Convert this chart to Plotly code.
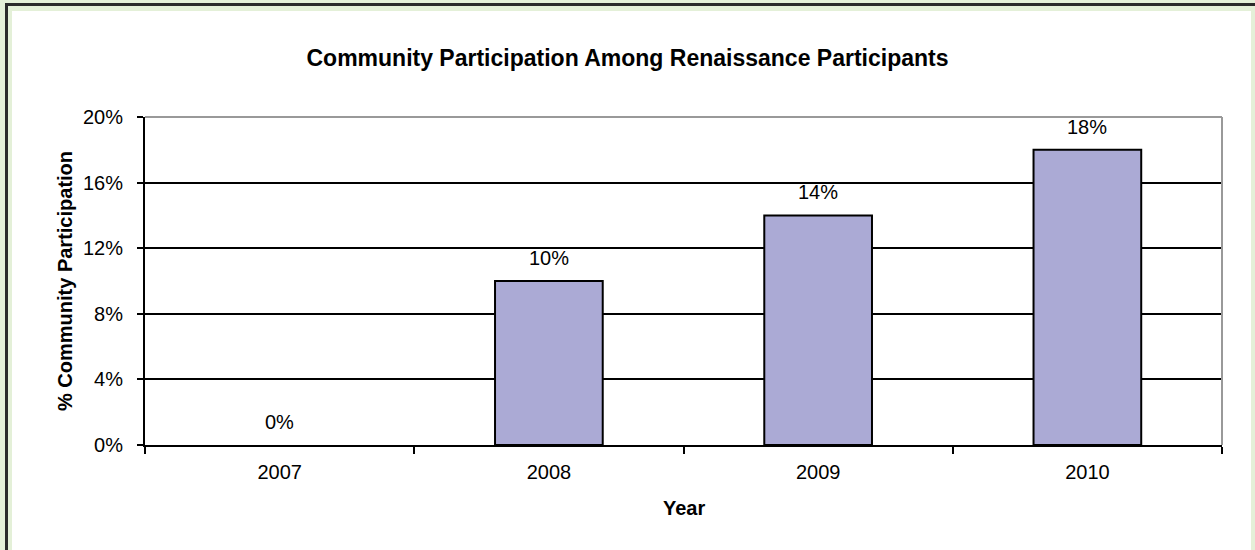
import plotly.graph_objects as go

years = ["2007", "2008", "2009", "2010"]
values = [0.0, 0.10, 0.14, 0.18]
labels = ["0%", "10%", "14%", "18%"]
y_ticks = [0, 0.04, 0.08, 0.12, 0.16, 0.20]
y_tick_text = ["0%", "4%", "8%", "12%", "16%", "20%"]

W, H = 1255, 550
L, R, T, B = 145, 1222, 117, 445
PW, PH = R - L, B - T

def px(x):
    return (x - L) / PW

def py(y):
    return (B - y) / PH

FONT = "Liberation Sans, Arial, sans-serif"

fig = go.Figure()
fig.add_trace(go.Bar(
    x=years, y=values, width=0.4,
    marker=dict(color="#ABAAD5",
                line=dict(color="black", width=[0 if v == 0 else 2 for v in values])),
    hoverinfo="skip",
))

annotations = []
for i, (v, t) in enumerate(zip(values, labels)):
    annotations.append(dict(x=i, y=v, text=t, showarrow=False, xref="x", yref="y",
                            yanchor="middle", yshift=23,
                            font=dict(family=FONT, size=20, color="black")))
annotations.append(dict(x=px(65), y=0.5, xref="paper", yref="paper", text="<b>% Community Participation</b>",
                        textangle=-90, showarrow=False, xanchor="center", yanchor="middle",
                        font=dict(family=FONT, size=20, color="black")))
annotations.append(dict(x=0.5, y=py(508), xref="paper", yref="paper", text="<b>Year</b>",
                        showarrow=False, xanchor="center", yanchor="middle",
                        font=dict(family=FONT, size=20, color="black")))

shapes = [
    dict(type="rect", xref="paper", yref="paper", x0=px(12), x1=px(1251), y0=py(560), y1=py(11),
         fillcolor="white", line=dict(width=0), layer="below"),
    dict(type="rect", xref="paper", yref="paper", x0=px(5), x1=px(8), y0=py(560), y1=py(3),
         fillcolor="#2a2a2a", line=dict(width=0), layer="below"),
    dict(type="rect", xref="paper", yref="paper", x0=px(5), x1=px(1260), y0=py(6), y1=py(3),
         fillcolor="#2a2a2a", line=dict(width=0), layer="below"),
    dict(type="line", xref="paper", yref="paper", x0=0, x1=1, y0=1, y1=1,
         line=dict(color="#999999", width=2), layer="above"),
    dict(type="line", xref="paper", yref="paper", x0=1, x1=1, y0=0, y1=1,
         line=dict(color="#999999", width=2), layer="above"),
]

fig.update_layout(
    width=W, height=H,
    margin=dict(l=L, r=W - R, t=T, b=H - B, pad=0),
    paper_bgcolor="#E4F0D8",
    plot_bgcolor="white",
    showlegend=False,
    title=dict(text="<b>Community Participation Among Renaissance Participants</b>",
               x=0.5, xref="container", xanchor="center",
               y=1 - 58 / H, yref="container", yanchor="middle",
               font=dict(family=FONT, size=23, color="black")),
    annotations=annotations,
    shapes=shapes,
    xaxis=dict(type="category", range=[-0.5, len(years) - 0.5], tickson="boundaries",
               ticks="outside", ticklen=7, tickwidth=2,
               tickcolor="black", showline=True, linecolor="black", linewidth=2,
               showgrid=False, tickfont=dict(family=FONT, size=20, color="black"),
               ticklabelstandoff=8, tickangle=0),
    yaxis=dict(range=[0, 0.2], tickvals=y_ticks, ticktext=y_tick_text, ticks="outside",
               ticklen=6, tickwidth=2, tickcolor="black", showline=True, linecolor="black",
               linewidth=2, showgrid=True, gridcolor="black", gridwidth=2, zeroline=False,
               tickfont=dict(family=FONT, size=20, color="black"), ticklabelstandoff=10),
    font=dict(family=FONT, color="black"),
)

fig.write_html("out.html")
